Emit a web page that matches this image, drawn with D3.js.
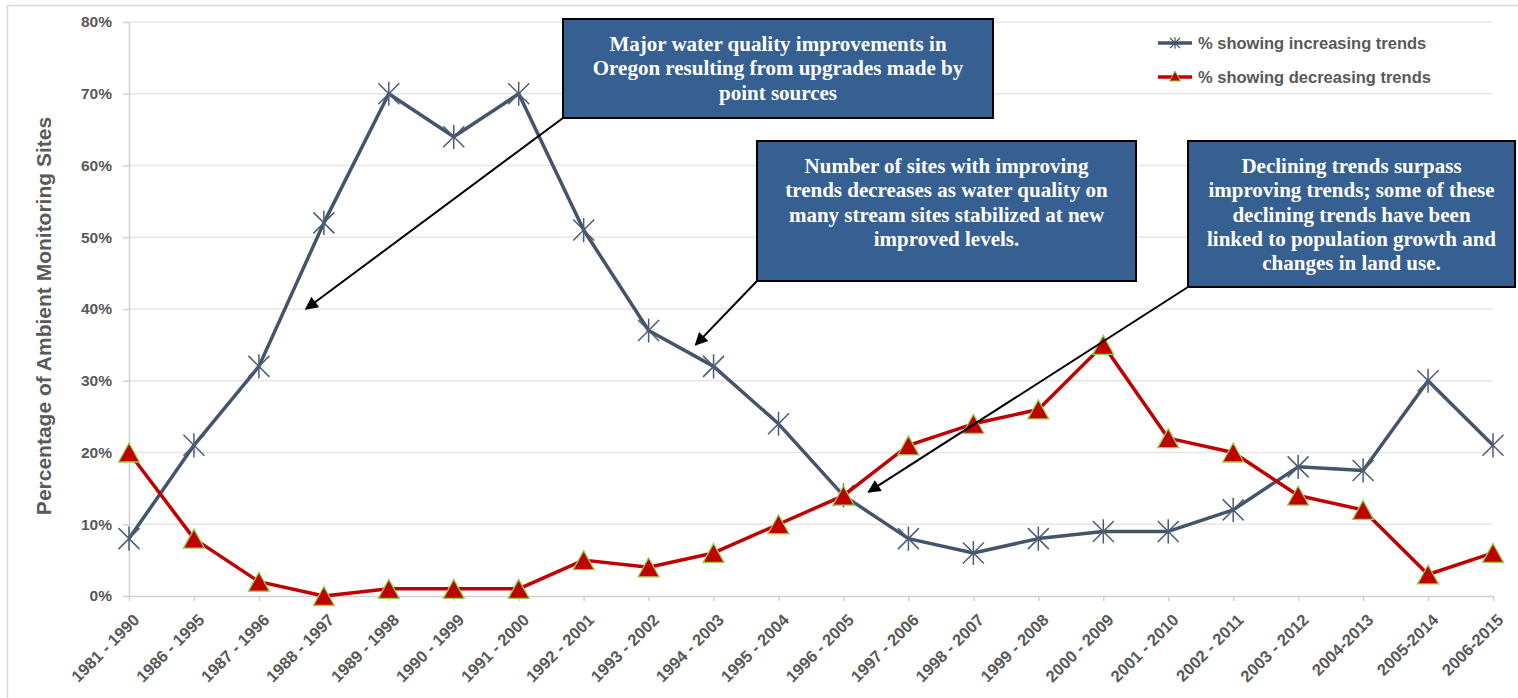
<!DOCTYPE html>
<html>
<head>
<meta charset="utf-8">
<script src="https://cdn.jsdelivr.net/npm/d3@7"></script>
<style>
  html, body { margin: 0; padding: 0; background: #fff; }
  svg { display: block; }
</style>
</head>
<body>
<svg id="chart" width="1518" height="698"></svg>
<script>
// Ten-year trend windows
const periods = [
  "1981 - 1990", "1986 - 1995", "1987 - 1996", "1988 - 1997", "1989 - 1998",
  "1990 - 1999", "1991 - 2000", "1992 - 2001", "1993 - 2002", "1994 - 2003",
  "1995 - 2004", "1996 - 2005", "1997 - 2006", "1998 - 2007", "1999 - 2008",
  "2000 - 2009", "2001 - 2010", "2002 - 2011", "2003 - 2012", "2004-2013",
  "2005-2014", "2006-2015"
];

// Share of monitoring sites (%) with increasing (improving) trends
const increasing = [8, 21, 32, 52, 70, 64, 70, 51, 37, 32, 24, 14, 8, 6, 8, 9, 9, 12, 18, 17.5, 30, 21];

// Share of monitoring sites (%) with decreasing (declining) trends
const decreasing = [20, 8, 2, 0, 1, 1, 1, 5, 4, 6, 10, 14, 21, 24, 26, 35, 22, 20, 14, 12, 3, 6];

const yTicks = [0, 10, 20, 30, 40, 50, 60, 70, 80];

const seriesNames = ["% showing increasing trends", "% showing decreasing trends"];

// text boxes with the point each arrow aims at (period, value, horizontal nudge)
const callouts = [
  { lines: ["Major water quality improvements in", "Oregon resulting from upgrades made by", "point sources"],
    box: [563, 19, 993, 118], target: ["1988 - 1997", 40, -18] },
  { lines: ["Number of sites with improving", "trends decreases as water quality on", "many stream sites stabilized at new", "improved levels."],
    box: [757, 141, 1136, 281], target: ["1994 - 2003", 35, -18] },
  { lines: ["Declining trends surpass", "improving trends; some of these", "declining trends have been", "linked to population growth and", "changes in land use."],
    box: [1188, 141, 1515, 287], target: ["1996 - 2005", 14.5, 25] }
];

const svg = d3.select("#chart");
const W = 1518, H = 698;
const plot = { left: 129, right: 1493, top: 22, bottom: 596 };

const x = d3.scalePoint().domain(periods).range([plot.left, plot.right]);
const y = d3.scaleLinear().domain([0, 80]).range([plot.bottom, plot.top]);

const textGray = "#595959";
const blueGray = "#44546a";
const red = "#c00000";
const green = "#92d050";
const boxFill = "#366092";
const sans = "Arial, 'Liberation Sans', sans-serif";

// chart frame
svg.append("rect")
  .attr("x", 7.5).attr("y", 5.5)
  .attr("width", W + 20).attr("height", H + 20)
  .attr("fill", "#fff").attr("stroke", "#d9d9d9").attr("stroke-width", 1.5);

// horizontal gridlines
svg.append("g")
  .selectAll("line")
  .data(yTicks.filter(d => d > 0))
  .join("line")
  .attr("x1", plot.left).attr("x2", plot.right)
  .attr("y1", d => y(d)).attr("y2", d => y(d))
  .attr("stroke", "#e6e6e6").attr("stroke-width", 1.5);

// y axis
const yAxis = svg.append("g")
  .attr("transform", `translate(${plot.left},0)`)
  .call(d3.axisLeft(y).tickValues(yTicks).tickFormat(d => d + "%").tickSizeInner(6).tickSizeOuter(0).tickPadding(11));
yAxis.select(".domain").attr("stroke", "#d0d0d0").attr("stroke-width", 1.5);
yAxis.selectAll(".tick line").attr("stroke", "#d0d0d0").attr("stroke-width", 1.5);
yAxis.selectAll(".tick text")
  .attr("fill", textGray)
  .style("font-family", sans)
  .style("font-size", "15.5px").style("font-weight", "bold");

// x axis
const xAxis = svg.append("g")
  .attr("transform", `translate(0,${plot.bottom})`)
  .call(d3.axisBottom(x).tickSizeInner(5).tickSizeOuter(0).tickPadding(0));
xAxis.select(".domain").attr("stroke", "#d0d0d0").attr("stroke-width", 1.5);
xAxis.selectAll(".tick line").attr("stroke", "#d0d0d0").attr("stroke-width", 1.5);
xAxis.selectAll(".tick text")
  .attr("fill", textGray)
  .attr("text-anchor", "end")
  .attr("y", 0).attr("dy", 0)
  .attr("transform", "translate(11,25) rotate(-45)")
  .style("font-family", sans)
  .style("font-size", "16.5px").style("font-weight", "bold");

// y axis title
svg.append("text")
  .attr("transform", `translate(51,${(y(80) + y(0)) / 2 + 7}) rotate(-90)`)
  .attr("text-anchor", "middle")
  .attr("fill", textGray)
  .style("font-family", sans)
  .style("font-size", "21px").style("font-weight", "bold")
  .text("Percentage of Ambient Monitoring Sites");

// marker shapes
function starPath(r) {
  return `M${-r},${-r}L${r},${r}M${-r},${r}L${r},${-r}M0,${-r * 1.15}L0,${r * 1.15}`;
}
function trianglePath(w, h) {
  return `M0,${-h / 2}L${w / 2},${h / 2}L${-w / 2},${h / 2}Z`;
}

const line = d3.line()
  .x((d, i) => x(periods[i]))
  .y(d => y(d));

// increasing series
svg.append("path")
  .datum(increasing)
  .attr("d", line)
  .attr("fill", "none").attr("stroke", blueGray)
  .attr("stroke-width", 3.5).attr("stroke-linejoin", "round");
svg.append("g")
  .selectAll("path")
  .data(increasing)
  .join("path")
  .attr("transform", (d, i) => `translate(${x(periods[i])},${y(d)})`)
  .attr("d", starPath(10.5))
  .attr("fill", "none").attr("stroke", "#4d5d75").attr("stroke-width", 1.5);

// decreasing series
svg.append("path")
  .datum(decreasing)
  .attr("d", line)
  .attr("fill", "none").attr("stroke", red)
  .attr("stroke-width", 3.5).attr("stroke-linejoin", "round");
svg.append("g")
  .selectAll("path")
  .data(decreasing)
  .join("path")
  .attr("transform", (d, i) => `translate(${x(periods[i])},${y(d)})`)
  .attr("d", trianglePath(21, 19))
  .attr("fill", red).attr("stroke", green).attr("stroke-width", 1.3)
  .attr("stroke-linejoin", "miter");

// legend
const legend = svg.append("g");
seriesNames.forEach((name, i) => {
  const ly = 43 + i * 34;
  const g = legend.append("g").attr("transform", `translate(1158,${ly})`);
  g.append("line").attr("x1", 0).attr("x2", 34).attr("y1", 0).attr("y2", 0)
    .attr("stroke", i === 0 ? blueGray : red).attr("stroke-width", 3.5);
  if (i === 0) {
    g.append("path").attr("transform", "translate(17,0)").attr("d", starPath(5))
      .attr("fill", "none").attr("stroke", blueGray).attr("stroke-width", 1.2);
  } else {
    g.append("path").attr("transform", "translate(17,-1)").attr("d", trianglePath(11, 10))
      .attr("fill", red).attr("stroke", green).attr("stroke-width", 1);
  }
  g.append("text").attr("x", 40).attr("y", 0).attr("dy", "0.36em")
    .attr("fill", textGray)
    .style("font-family", sans)
    .style("font-size", "16.5px").style("font-weight", "bold")
    .text(name);
});

// callout arrows
const defs = svg.append("defs");
defs.append("marker")
  .attr("id", "arrowhead")
  .attr("viewBox", "0 0 10 10")
  .attr("refX", 9).attr("refY", 5)
  .attr("markerWidth", 8).attr("markerHeight", 6.5)
  .attr("markerUnits", "strokeWidth")
  .attr("orient", "auto")
  .append("path").attr("d", "M0,0L10,5L0,10Z").attr("fill", "#000");

callouts.forEach(c => {
  const [x0, y0, x1, y1] = c.box;
  const [period, value, nudge] = c.target;
  svg.append("line")
    .attr("x1", x0).attr("y1", y1)
    .attr("x2", x(period) + nudge).attr("y2", y(value))
    .attr("stroke", "#000").attr("stroke-width", 2)
    .attr("marker-end", "url(#arrowhead)");
});

// callout boxes
callouts.forEach(c => {
  const [x0, y0, x1, y1] = c.box;
  svg.append("rect")
    .attr("x", x0).attr("y", y0).attr("width", x1 - x0).attr("height", y1 - y0)
    .attr("fill", boxFill).attr("stroke", "#000").attr("stroke-width", 2);
  const t = svg.append("text")
    .attr("text-anchor", "middle")
    .attr("fill", "#fff")
    .style("font-family", "'Times New Roman', 'Liberation Serif', serif")
    .style("font-size", "21px").style("font-weight", "bold");
  c.lines.forEach((ln, i) => {
    t.append("tspan")
      .attr("x", (x0 + x1) / 2)
      .attr("y", y0 + 32 + i * 24.3)
      .text(ln);
  });
});
</script>
</body>
</html>
